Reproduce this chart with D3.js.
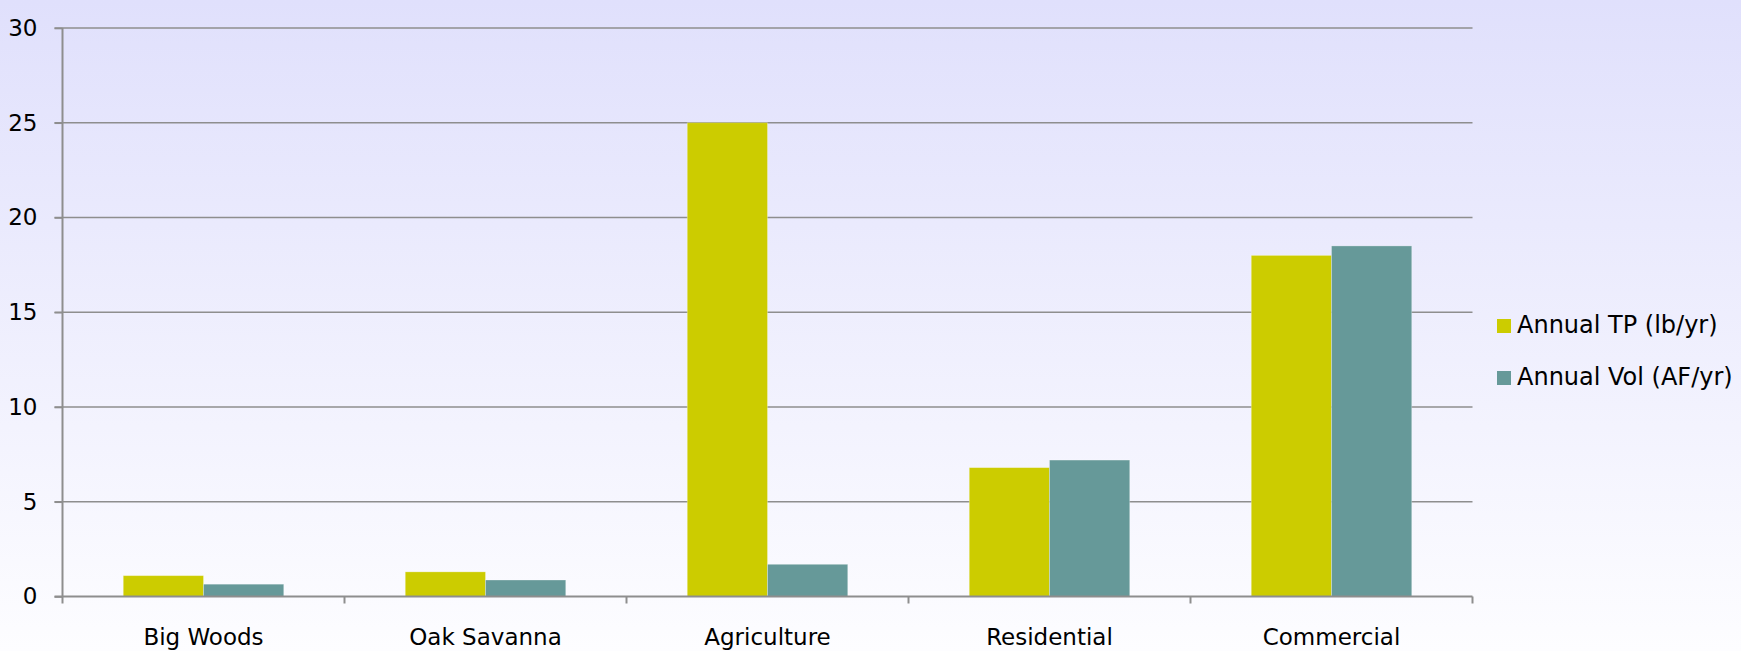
<!DOCTYPE html>
<html>
<head>
<meta charset="utf-8">
<script src="https://cdn.jsdelivr.net/npm/d3@7"></script>
<style>
  html, body { margin: 0; padding: 0; }
  body { width: 1741px; height: 651px; overflow: hidden; }
  svg { display: block; font-family: "DejaVu Sans", Verdana, sans-serif; }
</style>
</head>
<body>
<svg id="chart" width="1741" height="651"></svg>
<script>
const categories = ["Big Woods", "Oak Savanna", "Agriculture", "Residential", "Commercial"];
const seriesNames = ["Annual TP (lb/yr)", "Annual Vol (AF/yr)"];
const annualTP = [1.1, 1.3, 25.0, 6.8, 18.0];
const annualVol = [0.65, 0.87, 1.7, 7.2, 18.5];
const yTicks = [0, 5, 10, 15, 20, 25, 30];
const colors = ["#CCCC00", "#669999"];

const W = 1741, H = 651;
const margin = { left: 62.5, top: 28, right: 268.5, bottom: 54.5 };
const svg = d3.select("#chart");

// background gradient
const defs = svg.append("defs");
const grad = defs.append("linearGradient").attr("id", "bg").attr("x1", 0).attr("y1", 0).attr("x2", 0).attr("y2", 1);
grad.append("stop").attr("offset", "0%").attr("stop-color", "#E0E0FC");
grad.append("stop").attr("offset", "100%").attr("stop-color", "#FDFDFF");
svg.append("rect").attr("width", W).attr("height", H).attr("fill", "url(#bg)");

const x0 = margin.left, x1 = W - margin.right;
const yTop = margin.top, yBot = H - margin.bottom;

const x = d3.scaleBand().domain(categories).range([x0, x1]).paddingInner(0).paddingOuter(0);
const xs = d3.scaleBand().domain(seriesNames).range([0, x.bandwidth()]).paddingInner(0).paddingOuter(0.757);
const y = d3.scaleLinear().domain([0, 30]).range([yBot, yTop]);

// gridlines
svg.append("g").selectAll("line").data(yTicks.filter(d => d > 0)).join("line")
  .attr("x1", x0 - 8).attr("x2", x1)
  .attr("y1", d => y(d)).attr("y2", d => y(d))
  .attr("stroke", "#8E8E8E").attr("stroke-width", 1.6);

// bars
const data = [annualTP, annualVol];
const g = svg.append("g");
seriesNames.forEach((s, si) => {
  g.selectAll(".b" + si).data(categories).join("rect")
    .attr("x", c => x(c) + xs(s))
    .attr("width", xs.bandwidth())
    .attr("y", (c, i) => y(data[si][i]))
    .attr("height", (c, i) => yBot - y(data[si][i]))
    .attr("fill", colors[si])
    .attr("stroke", "rgba(255,255,255,0.35)").attr("stroke-width", 0.8);
});

// y axis
const yAxis = d3.axisLeft(y).tickValues(yTicks).tickSize(8).tickPadding(17).tickFormat(d3.format("d"));
const ya = svg.append("g").attr("transform", `translate(${x0},0)`).call(yAxis);
ya.select(".domain").attr("stroke", "#8E8E8E").attr("stroke-width", 2).attr("d", `M0,${yTop}V${yBot}`);
ya.selectAll(".tick line").attr("stroke", "#8E8E8E").attr("stroke-width", 1.6);
ya.selectAll(".tick text").attr("font-size", 23).attr("fill", "#000").attr("font-family", "DejaVu Sans");

// x axis
const xa = svg.append("g").attr("transform", `translate(0,${yBot})`);
xa.append("line").attr("x1", x0 - 8).attr("x2", x1).attr("y1", 0).attr("y2", 0)
  .attr("stroke", "#8E8E8E").attr("stroke-width", 2);
const bounds = categories.map(c => x(c)).concat([x1]);
xa.selectAll(".xt").data(bounds).join("line")
  .attr("x1", d => d).attr("x2", d => d).attr("y1", 0).attr("y2", 7)
  .attr("stroke", "#8E8E8E").attr("stroke-width", 2);
xa.selectAll(".xl").data(categories).join("text")
  .attr("x", c => x(c) + x.bandwidth() / 2).attr("y", 48.5)
  .attr("text-anchor", "middle").attr("font-size", 23).attr("fill", "#000")
  .text(c => c);

// legend
const lg = svg.append("g").attr("transform", "translate(1497,319)");
seriesNames.forEach((s, i) => {
  const row = lg.append("g").attr("transform", `translate(0,${i * 52})`);
  row.append("rect").attr("width", 14).attr("height", 14).attr("fill", colors[i]);
  row.append("text").attr("x", 20).attr("y", 14).attr("font-size", 24).attr("fill", "#000").text(s);
});
</script>
</body>
</html>
